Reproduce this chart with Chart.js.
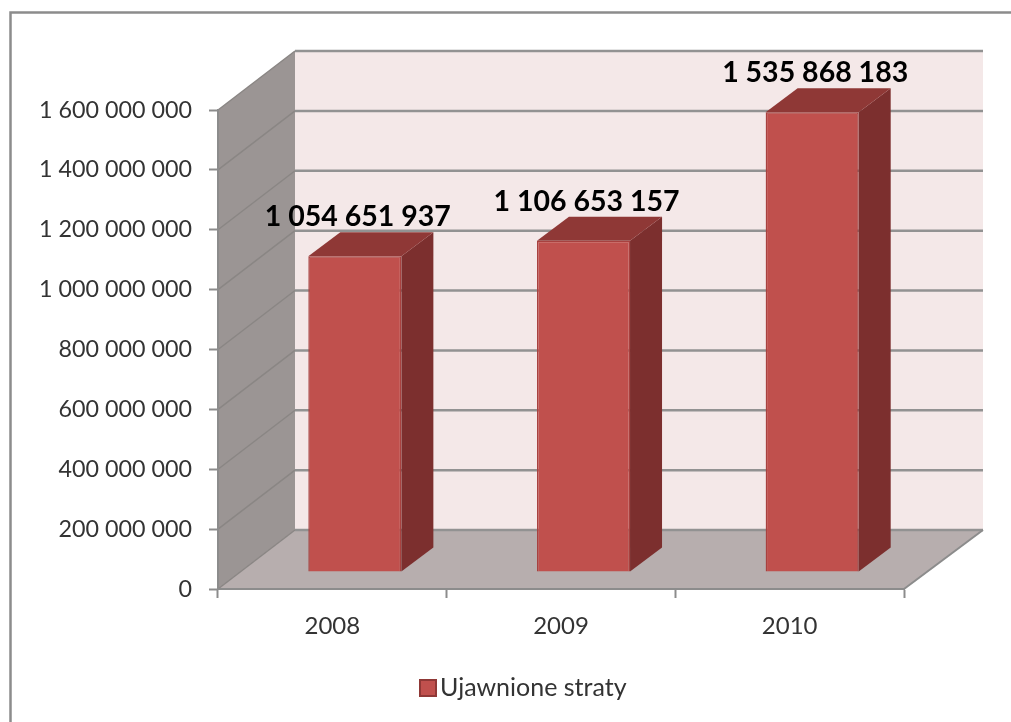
<!doctype html>
<html lang="en">

<head>
    <meta charset="utf-8" />
    <title>Ujawnione straty</title>
    <script src="https://cdn.jsdelivr.net/npm/chart.js@4/dist/chart.umd.min.js"></script>
    <style>
        body {
            margin: 0;
            background: #fff;
        }
        #myChart {
            display: block;
        }
    </style>
</head>

<body>
    <canvas id="myChart" width="1011" height="722"></canvas>

    <script>
        const years = ['2008', '2009', '2010'];
        const lossValues = [1054651937, 1106653157, 1535868183];
        const seriesName = 'Ujawnione straty';

        const FONT = 'Lato, "Open Sans", sans-serif';
        // oblique projection of the fake 3D box
        const wallDepth = { x: 77, y: -59 };
        const wallRightExtra = 2;
        const barShift = { x: 22.5, y: -17 };
        const barDepth = { x: 32, y: -24 };

        function spaced(value) {
            return String(value).replace(/\B(?=(\d{3})+$)/g, ' ');
        }

        function fillPoly(ctx, points, color) {
            ctx.beginPath();
            points.forEach((p, i) => i ? ctx.lineTo(p[0], p[1]) : ctx.moveTo(p[0], p[1]));
            ctx.closePath();
            ctx.fillStyle = color;
            ctx.fill();
        }

        const box3d = {
            id: 'box3d',
            beforeDraw(chart) {
                const { ctx, chartArea: a, scales } = chart;
                const dx = wallDepth.x, dy = wallDepth.y;
                const backRight = a.right + dx + wallRightExtra;
                ctx.save();

                // chart frame
                ctx.strokeStyle = '#8c8c8c';
                ctx.lineWidth = 2.5;
                ctx.beginPath();
                ctx.moveTo(10.5, 722);
                ctx.lineTo(10.5, 12.5);
                ctx.lineTo(1011, 12.5);
                ctx.stroke();

                fillPoly(ctx, [[a.left + dx, a.top + dy], [backRight, a.top + dy], [backRight, a.bottom + dy], [a.left + dx, a.bottom + dy]], '#f4e8e8');
                fillPoly(ctx, [[a.left, a.top], [a.left + dx, a.top + dy], [a.left + dx, a.bottom + dy], [a.left, a.bottom]], '#9b9594');
                fillPoly(ctx, [[a.left, a.bottom], [a.left + dx, a.bottom + dy], [backRight, a.bottom + dy], [a.right, a.bottom]], '#b7aeae');

                scales.y.ticks.forEach(t => {
                    const y = scales.y.getPixelForValue(t.value);
                    ctx.strokeStyle = '#8a8684';
                    ctx.lineWidth = 1.5;
                    ctx.beginPath();
                    ctx.moveTo(a.left, y);
                    ctx.lineTo(a.left + dx, y + dy);
                    ctx.stroke();
                    ctx.strokeStyle = '#929292';
                    ctx.lineWidth = 2.5;
                    ctx.beginPath();
                    ctx.moveTo(a.left + dx, y + dy);
                    ctx.lineTo(backRight, y + dy);
                    ctx.stroke();
                });

                // floor edge
                ctx.strokeStyle = '#8c8c8c';
                ctx.lineWidth = 2;
                ctx.beginPath();
                ctx.moveTo(a.right, a.bottom);
                ctx.lineTo(backRight, a.bottom + dy);
                ctx.stroke();
                ctx.restore();
            },
            beforeDatasetDraw(chart) {
                chart.ctx.save();
                chart.ctx.translate(barShift.x, barShift.y);
            },
            afterDatasetDraw(chart, args) {
                const { ctx } = chart;
                const dx = barDepth.x, dy = barDepth.y;
                args.meta.data.forEach((bar, i) => {
                    const half = bar.width / 2;
                    const l = bar.x - half, r = bar.x + half;
                    fillPoly(ctx, [[r, bar.y], [r + dx, bar.y + dy], [r + dx, bar.base + dy], [r, bar.base]], '#7c2f2e');
                    fillPoly(ctx, [[l, bar.y], [l + dx, bar.y + dy], [r + dx, bar.y + dy], [r, bar.y]], '#8f3836');

                    ctx.font = 'bold 28.5px ' + FONT;
                    ctx.fillStyle = '#000';
                    ctx.textAlign = 'center';
                    ctx.textBaseline = 'middle';
                    ctx.fillText(spaced(lossValues[i]), bar.x + 3, bar.y - 39);
                });
                ctx.restore();
            },
            afterDraw(chart) {
                // legend centred under the whole picture, not the plot
                const { ctx } = chart;
                ctx.save();
                ctx.fillStyle = '#c0504d';
                ctx.strokeStyle = '#8f3836';
                ctx.lineWidth = 2;
                ctx.fillRect(420, 680, 16, 16);
                ctx.strokeRect(420, 680, 16, 16);
                ctx.font = '25px ' + FONT;
                ctx.fillStyle = '#333';
                ctx.textAlign = 'left';
                ctx.textBaseline = 'middle';
                ctx.fillText(seriesName, 440, 688);
                ctx.restore();
            }
        };

        new Chart(document.getElementById('myChart'), {
            type: 'bar',
            data: {
                labels: years,
                datasets: [{
                    label: seriesName,
                    data: lossValues,
                    backgroundColor: '#c0504d',
                    borderColor: '#a8413f',
                    borderWidth: 1.5,
                    barPercentage: 0.407,
                    categoryPercentage: 1,
                    clip: false
                }]
            },
            options: {
                responsive: false,
                animation: false,
                layout: { padding: { top: 110, right: 107, left: 0, bottom: 0 } },
                plugins: {
                    tooltip: { enabled: false },
                    legend: { display: false }
                },
                scales: {
                    x: {
                        afterFit(scale) { scale.height = 133; },
                        border: { color: '#8c8c8c', width: 2 },
                        grid: { drawOnChartArea: false, tickLength: 9, tickColor: '#8c8c8c', tickWidth: 2 },
                        ticks: { color: '#333', padding: 14, maxRotation: 0, font: { family: FONT, size: 24 } }
                    },
                    y: {
                        min: 0,
                        max: 1600000000,
                        afterFit(scale) { scale.width = 218; },
                        border: { color: '#8c8c8c', width: 2 },
                        grid: { drawOnChartArea: false, tickLength: 9, tickColor: '#8c8c8c', tickWidth: 2 },
                        ticks: {
                            stepSize: 200000000,
                            color: '#333',
                            padding: 17,
                            font: { family: FONT, size: 23.3 },
                            callback: value => spaced(value)
                        }
                    }
                }
            },
            plugins: [box3d]
        });
    </script>
</body>

</html>
